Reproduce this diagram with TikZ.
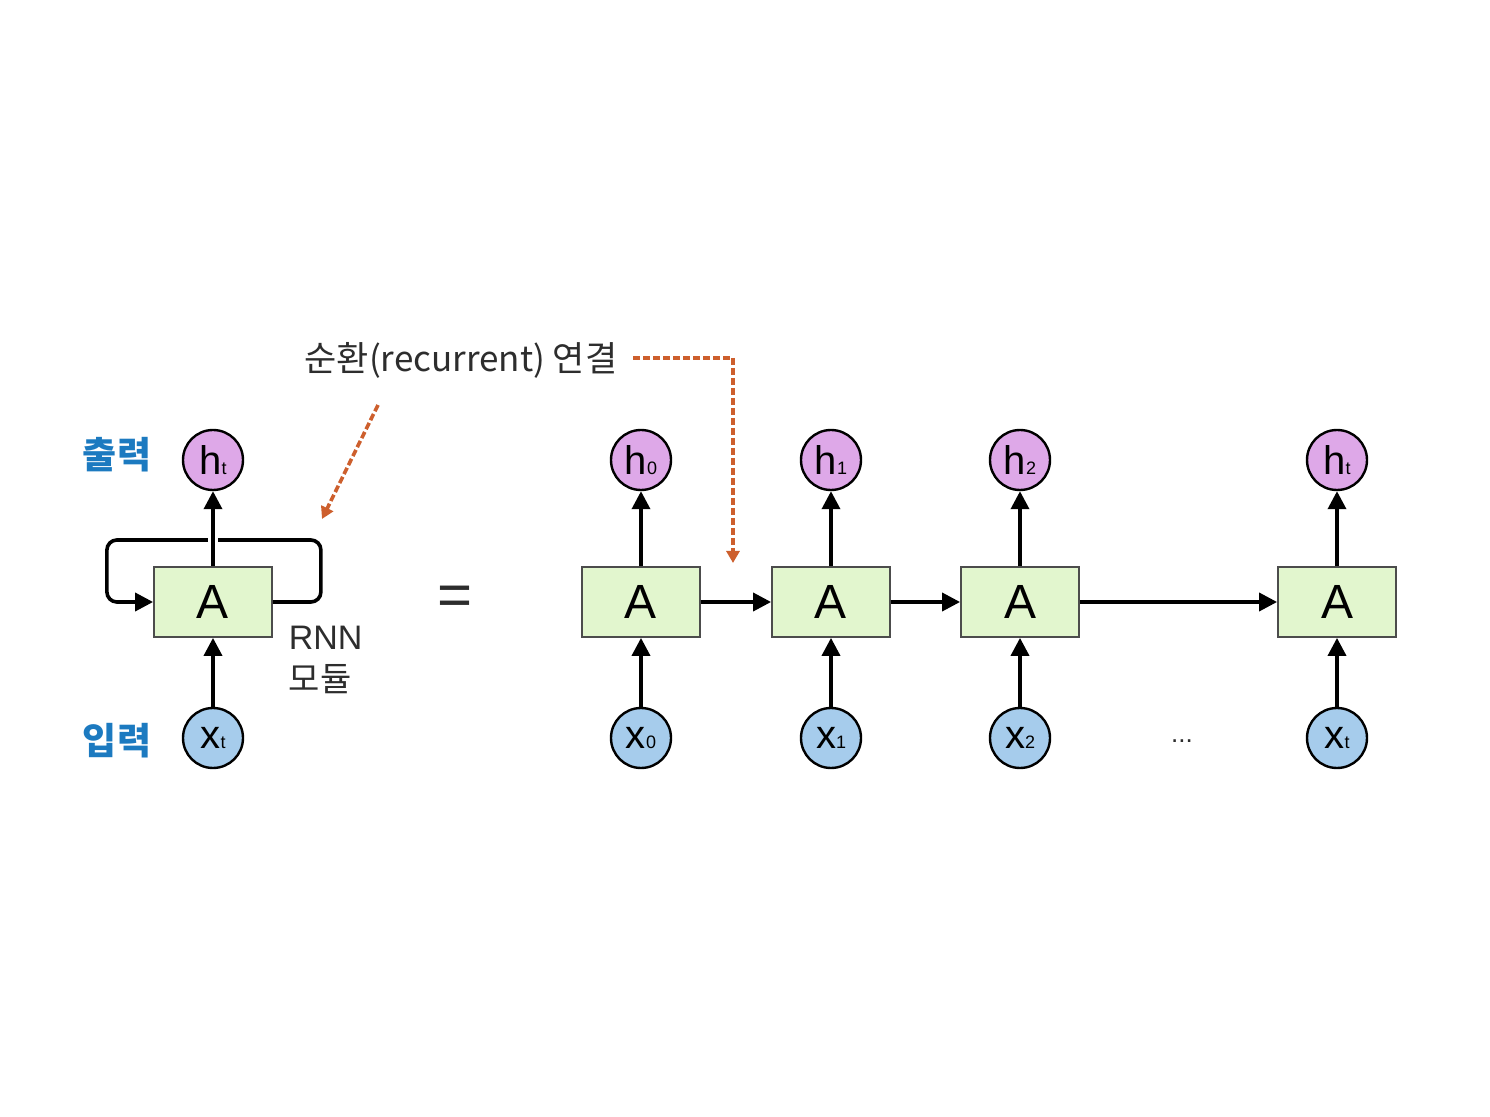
\documentclass[tikz,border=0pt]{standalone}
\usepackage{fontspec}
\setmainfont{Liberation Sans}
\newfontfamily\kr{Noto Sans CJK KR}
\usetikzlibrary{arrows.meta}
\definecolor{hfill}{RGB}{222,168,232}
\definecolor{xfill}{RGB}{166,204,236}
\definecolor{afill}{RGB}{226,246,206}
\definecolor{dashor}{RGB}{205,95,45}
\definecolor{lblue}{RGB}{28,122,192}
\definecolor{tgray}{RGB}{45,45,45}
\newcommand\idx[1]{{\fontsize{9}{9}\selectfont #1}}

\tikzset{every picture/.style={line width=0.75pt}}
\tikzset{
  hnode/.style={circle, draw, line width=1.2pt, fill=hfill, minimum size=30pt, inner sep=0pt, font=\fontsize{20}{20}\selectfont},
  xnode/.style={circle, draw, line width=1.2pt, fill=xfill, minimum size=30pt, inner sep=0pt, font=\fontsize{20}{20}\selectfont},
  abox/.style={rectangle, draw=black!70, line width=0.9pt, fill=afill, minimum width=59pt, minimum height=35pt, inner sep=0pt, font=\fontsize{24}{24}\selectfont},
  flow/.style={line width=1.8pt, -{Triangle[length=9pt,width=9pt]}},
  recarrow/.style={dashor, line width=1.8pt, dash pattern=on 3.5pt off 1.5pt, -{Triangle[length=6pt,width=6.5pt]}},
}

\begin{document}
\begin{tikzpicture}[x=0.5pt,y=0.5pt,yscale=-1,xscale=1]
\path[use as bounding box] (0,0) rectangle (1490,1117);

% Folded RNN
\node[abox] (Aloop) at (213,602) {A};
\node[hnode] (htl) at (213,460) {h\idx{t}};
\node[xnode] (xtl) at (213,738) {x\idx{t}};
%Loop
\draw[flow, rounded corners=5pt] (Aloop.east) -- ++(48,0) -- ++(0,-62) -- ++(-214,0) -- ++(0,62) -- (Aloop.west);
\coordinate (cross) at (213,540);
\draw[white, line width=5pt] (cross) ++(0,-3) -- ++(0,6);
\draw[flow] (Aloop.north) -- (htl);
\draw[flow] (xtl) -- (Aloop.south);

% Text Node
\node[lblue, font=\kr\bfseries\fontsize{18.5}{18.5}\selectfont] (outl) at (117,455) {출력};
\node[lblue, font=\kr\bfseries\fontsize{18.5}{18.5}\selectfont] (inl) at (117,741) {입력};
\node[tgray, font=\fontsize{17}{21}\selectfont, align=left, anchor=north west, inner sep=0pt] (rnn) at (288,625) {RNN\\{\kr 모듈}};
\node[tgray, font=\fontsize{30}{30}\selectfont] (eq) at (455,601) {=};
\node[tgray, font=\kr\fontsize{17.5}{17.5}\selectfont] (rec) at (461,360) {순환(recurrent) 연결};

% Unrolled RNN
\node[abox] (A0) at (641,602) {A};
\node[abox] (A1) at (831,602) {A};
\node[abox] (A2) at (1020,602) {A};
\node[abox] (At) at (1337,602) {A};
\node[hnode] (h0) at (641,460) {h\idx{0}};
\node[hnode] (h1) at (831,460) {h\idx{1}};
\node[hnode] (h2) at (1020,460) {h\idx{2}};
\node[hnode] (ht) at (1337,460) {h\idx{t}};
\node[xnode] (x0) at (641,738) {x\idx{0}};
\node[xnode] (x1) at (831,738) {x\idx{1}};
\node[xnode] (x2) at (1020,738) {x\idx{2}};
\node[xnode] (xt) at (1337,738) {x\idx{t}};
\node[tgray, font=\fontsize{13}{13}\selectfont] (dots) at (1182,741) {...};

%Straight Lines
\draw[flow] (A0.north) -- (h0);
\draw[flow] (A1.north) -- (h1);
\draw[flow] (A2.north) -- (h2);
\draw[flow] (At.north) -- (ht);
\draw[flow] (x0) -- (A0.south);
\draw[flow] (x1) -- (A1.south);
\draw[flow] (x2) -- (A2.south);
\draw[flow] (xt) -- (At.south);
\draw[flow] (A0.east) -- (A1.west);
\draw[flow] (A1.east) -- (A2.west);
\draw[flow] (A2.east) -- (At.west);

%Dashed pointers
\coordinate (p1s) at (378,405);
\coordinate (p1e) at (322,519);
\coordinate (p2s) at (633,358);
\coordinate (p2e) at (733,563);
\draw[recarrow] (p1s) -- (p1e);
\draw[recarrow] (p2s) -| (p2e);

\end{tikzpicture}
\end{document}
